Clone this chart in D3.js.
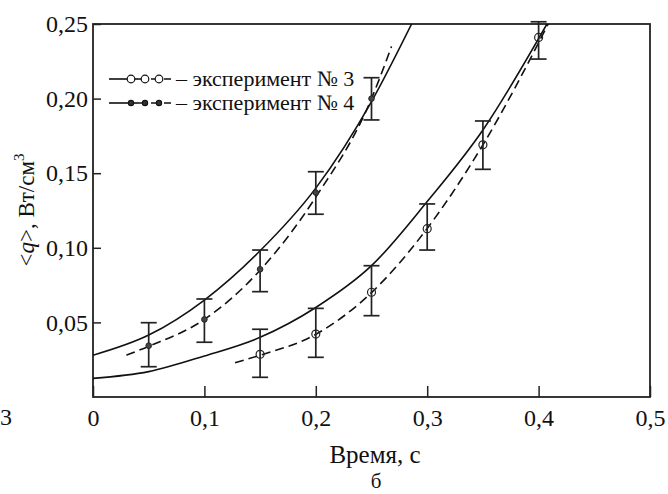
<!DOCTYPE html>
<html>
<head>
<meta charset="utf-8">
<script src="https://cdn.jsdelivr.net/npm/d3@7"></script>
<style>
  body { margin: 0; background: #fff; }
  text { font-family: "Liberation Serif", "Times New Roman", serif; fill: #111; }
</style>
</head>
<body>
<script>
// time ticks and value ticks
var xTicks = [0, 0.1, 0.2, 0.3, 0.4, 0.5];
var yTicks = [0.05, 0.10, 0.15, 0.20, 0.25];

// experiment 3 (open circles)
var exp3T  = [0.15, 0.20, 0.25, 0.30, 0.35, 0.40];
var exp3Q  = [0.0286, 0.0422, 0.0702, 0.1128, 0.169, 0.241];
var exp3Lo = [0.0132, 0.0266, 0.0545, 0.0985, 0.1526, 0.2265];
var exp3Hi = [0.0454, 0.0594, 0.088, 0.1294, 0.185, 0.2515];

// experiment 4 (small dots)
var exp4T  = [0.05, 0.10, 0.15, 0.20, 0.25];
var exp4Q  = [0.0344, 0.052, 0.0856, 0.137, 0.200];
var exp4Lo = [0.0203, 0.0367, 0.0706, 0.1225, 0.1857];
var exp4Hi = [0.0498, 0.0657, 0.0985, 0.151, 0.214];

// curves
var solid4T = [0, 0.05, 0.10, 0.15, 0.20, 0.25, 0.286];
var solid4Q = [0.028, 0.0415, 0.065, 0.098, 0.140, 0.198, 0.25];
var dash4T  = [0.03, 0.05, 0.10, 0.15, 0.20, 0.25, 0.268];
var dash4Q  = [0.028, 0.034, 0.052, 0.085, 0.134, 0.200, 0.235];
var solid3T = [0, 0.05, 0.10, 0.15, 0.20, 0.25, 0.30, 0.35, 0.4075];
var solid3Q = [0.0125, 0.017, 0.0275, 0.040, 0.060, 0.088, 0.131, 0.179, 0.25];
var dash3T  = [0.1275, 0.15, 0.20, 0.25, 0.30, 0.35, 0.41];
var dash3Q  = [0.023, 0.028, 0.042, 0.070, 0.113, 0.169, 0.252];

var W = 668, H = 494;
var svg = d3.select("body").append("svg").attr("width", W).attr("height", H);

var x = d3.scaleLinear().domain([0, 0.5]).range([93, 650]);
var y = d3.scaleLinear().domain([0, 0.25]).range([397, 24]);

var comma = s => s.replace(".", ",");

svg.append("clipPath").attr("id", "plot")
  .append("rect").attr("x", 93).attr("y", 24).attr("width", 557).attr("height", 373);

// axes (ticks point inward)
var xAxis = d3.axisBottom(x).tickValues(xTicks).tickSizeInner(-11).tickSizeOuter(0).tickPadding(12)
  .tickFormat(d => d === 0 ? "0" : comma(d3.format(".1f")(d)));
var gx = svg.append("g").attr("transform", "translate(0,397)").call(xAxis);

var yAxis = d3.axisLeft(y).tickValues(yTicks).tickSizeInner(-8).tickSizeOuter(0).tickPadding(5)
  .tickFormat(d => comma(d3.format(".2f")(d)));
var gy = svg.append("g").attr("transform", "translate(93,0)").call(yAxis);

[gx, gy].forEach(function(g) {
  g.select(".domain").remove();
  g.selectAll("line").attr("stroke", "#222").attr("stroke-width", 1.5);
  g.selectAll("text").attr("font-size", 24).attr("font-family", "Liberation Serif").attr("fill", "#111");
});

svg.append("rect").attr("x", 93).attr("y", 24).attr("width", 557).attr("height", 373)
  .attr("fill", "none").attr("stroke", "#222").attr("stroke-width", 1.8);

// curves
var line = d3.line().x(d => x(d[0])).y(d => y(d[1])).curve(d3.curveMonotoneX);
var curves = [
  [d3.zip(solid4T, solid4Q), null],
  [d3.zip(dash4T, dash4Q), "9,5"],
  [d3.zip(solid3T, solid3Q), null],
  [d3.zip(dash3T, dash3Q), "9,5"]
];
var gc = svg.append("g").attr("clip-path", "url(#plot)");
curves.forEach(function(c) {
  gc.append("path").attr("d", line(c[0])).attr("fill", "none")
    .attr("stroke", "#111").attr("stroke-width", 1.6)
    .attr("stroke-dasharray", c[1]);
});

// error bars
function errorBars(T, Lo, Hi) {
  var g = svg.append("g").attr("stroke", "#222").attr("stroke-width", 1.7);
  g.selectAll("line.v").data(T).enter().append("line")
    .attr("x1", d => x(d)).attr("x2", d => x(d))
    .attr("y1", (d, i) => y(Hi[i])).attr("y2", (d, i) => y(Lo[i]));
  [Lo, Hi].forEach(function(arr) {
    g.selectAll(null).data(T).enter().append("line")
      .attr("x1", d => x(d) - 8).attr("x2", d => x(d) + 8)
      .attr("y1", (d, i) => y(arr[i])).attr("y2", (d, i) => y(arr[i]));
  });
}
errorBars(exp3T, exp3Lo, exp3Hi);
errorBars(exp4T, exp4Lo, exp4Hi);

// markers
svg.selectAll("circle.e3").data(exp3T).enter().append("circle").attr("class", "e3")
  .attr("cx", d => x(d)).attr("cy", (d, i) => y(exp3Q[i])).attr("r", 4)
  .attr("fill", "none").attr("stroke", "#222").attr("stroke-width", 1.2);
svg.selectAll("circle.e4").data(exp4T).enter().append("circle").attr("class", "e4")
  .attr("cx", d => x(d)).attr("cy", (d, i) => y(exp4Q[i])).attr("r", 2.8)
  .attr("fill", "#444").attr("stroke", "#222").attr("stroke-width", 1);

// legend
var legend = [
  { y: 79, label: "– эксперимент № 3", r: 3.8, fill: "#fff" },
  { y: 103, label: "– эксперимент № 4", r: 2.6, fill: "#333" }
];
legend.forEach(function(l) {
  var g = svg.append("g");
  g.append("line").attr("x1", 109).attr("x2", 138).attr("y1", l.y).attr("y2", l.y)
    .attr("stroke", "#111").attr("stroke-width", 1.6);
  g.append("line").attr("x1", 138).attr("x2", 171).attr("y1", l.y).attr("y2", l.y)
    .attr("stroke", "#111").attr("stroke-width", 1.6).attr("stroke-dasharray", "9,4");
  [131, 145, 159].forEach(function(cx) {
    g.append("circle").attr("cx", cx).attr("cy", l.y).attr("r", l.r)
      .attr("fill", l.fill).attr("stroke", "#111").attr("stroke-width", 1.2);
  });
  g.append("text").attr("x", 176).attr("y", l.y + 7).attr("font-size", 22).text(l.label);
});

// axis titles
svg.append("text").attr("x", 375).attr("y", 463).attr("text-anchor", "middle")
  .attr("font-size", 25).text("Время, с");
svg.append("text").attr("x", 376).attr("y", 488).attr("text-anchor", "middle")
  .attr("font-size", 21).text("б");

var yl = svg.append("text").attr("transform", "translate(34,210) rotate(-90)")
  .attr("text-anchor", "middle").attr("font-size", 23);
yl.append("tspan").text("<");
yl.append("tspan").attr("font-style", "italic").text("q");
yl.append("tspan").text(">, Вт/см");
yl.append("tspan").attr("font-size", 15).attr("dy", -10).text("3");

// label from the neighbouring panel, cut at the edge
svg.append("text").attr("x", 0).attr("y", 425).attr("font-size", 24).text("3");
</script>
</body>
</html>
